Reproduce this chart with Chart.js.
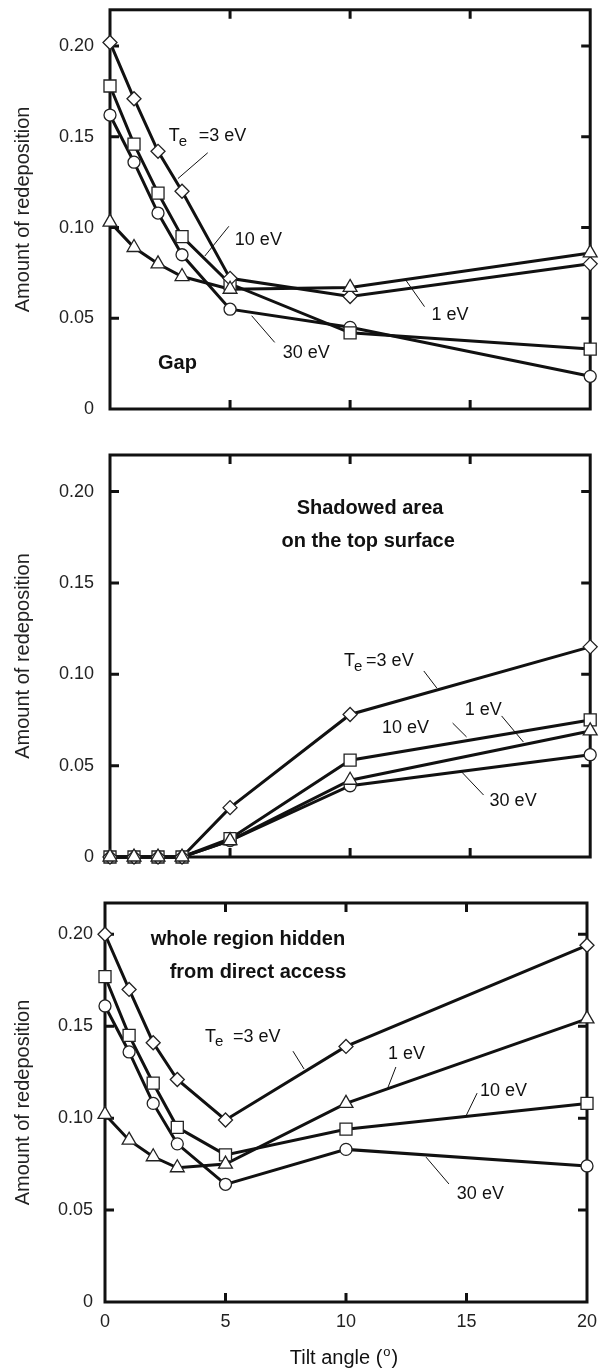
<!DOCTYPE html>
<html>
<head>
<meta charset="utf-8">
<script src="https://cdn.jsdelivr.net/npm/chart.js@4/dist/chart.umd.min.js"></script>
<style>
  body { margin: 0; background: #fff; }
  .panel { position: absolute; left: 0; width: 600px; }
</style>
</head>
<body>
<div class="panel" style="top:0;height:430px"><canvas id="gap"></canvas></div>
<div class="panel" style="top:440px;height:430px"><canvas id="shadow"></canvas></div>
<div class="panel" style="top:880px;height:490px"><canvas id="whole"></canvas></div>
<script>
// tilt angle (deg) and amount of redeposition, per electron temperature
var tilt = [0, 1, 2, 3, 5, 10, 20];
var xTicks = [0, 5, 10, 15, 20];
var yTicks = [0, 0.05, 0.10, 0.15, 0.20];
var seriesNames = ['1 eV', '3 eV', '10 eV', '30 eV'];
var markers = ['triangle', 'rectRot', 'rect', 'circle'];
var markerSize = [8, 7, 8.5, 6];

// Gap
var gap1  = [0.103, 0.089, 0.080, 0.073, 0.066, 0.067, 0.086];
var gap3  = [0.202, 0.171, 0.142, 0.120, 0.072, 0.062, 0.080];
var gap10 = [0.178, 0.146, 0.119, 0.095, 0.069, 0.042, 0.033];
var gap30 = [0.162, 0.136, 0.108, 0.085, 0.055, 0.045, 0.018];

// Shadowed area on the top surface
var shd1  = [0, 0, 0, 0, 0.009, 0.042, 0.069];
var shd3  = [0, 0, 0, 0, 0.027, 0.078, 0.115];
var shd10 = [0, 0, 0, 0, 0.010, 0.053, 0.075];
var shd30 = [0, 0, 0, 0, 0.009, 0.039, 0.056];

// whole region hidden from direct access
var all1  = [0.102, 0.088, 0.079, 0.073, 0.075, 0.108, 0.154];
var all3  = [0.200, 0.170, 0.141, 0.121, 0.099, 0.139, 0.194];
var all10 = [0.177, 0.145, 0.119, 0.095, 0.080, 0.094, 0.108];
var all30 = [0.161, 0.136, 0.108, 0.086, 0.064, 0.083, 0.074];

var FONT = "'Liberation Sans', Arial, sans-serif";

function buildDatasets(values) {
  var sets = [];
  for (var i = 0; i < values.length; i++) {
    var pts = tilt.map(function(t, j) { return {x: t, y: values[i][j]}; });
    sets.push({
      label: seriesNames[i], data: pts, borderColor: '#111', borderWidth: 3,
      pointRadius: 0, fill: false, tension: 0, clip: false, order: 2
    });
    sets.push({
      label: seriesNames[i] + ' marker', data: pts, showLine: false,
      pointStyle: markers[i], pointRadius: markerSize[i], pointHoverRadius: markerSize[i],
      pointBackgroundColor: '#fff', pointBorderColor: '#222', pointBorderWidth: 1.3,
      clip: false, order: 1
    });
  }
  return sets;
}

function drawFrame(chart) {
  var ctx = chart.ctx, a = chart.chartArea;
  var xs = chart.scales.x, ys = chart.scales.y;
  ctx.save();
  ctx.strokeStyle = '#111';
  ctx.lineWidth = 3;
  ctx.strokeRect(a.left, a.top, a.right - a.left, a.bottom - a.top);
  ctx.beginPath();
  xTicks.forEach(function(v) {
    if (v <= xs.min || v >= xs.max) return;
    var px = xs.getPixelForValue(v);
    ctx.moveTo(px, a.bottom); ctx.lineTo(px, a.bottom - 9);
    ctx.moveTo(px, a.top); ctx.lineTo(px, a.top + 9);
  });
  yTicks.forEach(function(v) {
    if (v <= ys.min || v >= ys.max) return;
    var py = ys.getPixelForValue(v);
    ctx.moveTo(a.left, py); ctx.lineTo(a.left + 9, py);
    ctx.moveTo(a.right, py); ctx.lineTo(a.right - 9, py);
  });
  ctx.stroke();
  ctx.restore();
}

function drawNotes(chart, notes) {
  var ctx = chart.ctx;
  var xs = chart.scales.x, ys = chart.scales.y;
  ctx.save();
  ctx.fillStyle = '#111';
  ctx.strokeStyle = '#111';
  ctx.lineWidth = 1;
  ctx.textBaseline = 'middle';
  (notes.leaders || []).forEach(function(l) {
    ctx.beginPath();
    ctx.moveTo(xs.getPixelForValue(l[0]), ys.getPixelForValue(l[1]));
    ctx.lineTo(xs.getPixelForValue(l[2]), ys.getPixelForValue(l[3]));
    ctx.stroke();
  });
  (notes.labels || []).forEach(function(n) {
    var px = xs.getPixelForValue(n.x), py = ys.getPixelForValue(n.y);
    if (n.te) {
      ctx.textAlign = 'left';
      ctx.font = '18px ' + FONT;
      ctx.fillText('T', px, py);
      var tw = ctx.measureText('T').width;
      ctx.font = '15px ' + FONT;
      ctx.fillText('e', px + tw - 1, py + 5);
      ctx.font = '18px ' + FONT;
      ctx.fillText('=3 eV', px + n.gap, py);
      return;
    }
    ctx.font = (n.bold ? 'bold 20px ' : '18px ') + FONT;
    ctx.textAlign = n.center ? 'center' : 'left';
    ctx.fillText(n.text, px, py);
  });
  if (notes.xTitle) {
    var cx = (chart.chartArea.left + chart.chartArea.right) / 2 - 2;
    var cy = chart.height - 12;
    ctx.font = '20px ' + FONT;
    var a = 'Tilt angle (', b = 'o', c = ')';
    var wa = ctx.measureText(a).width, wc = ctx.measureText(c).width;
    ctx.font = '13px ' + FONT;
    var wb = ctx.measureText(b).width;
    var x0 = cx - (wa + wb + wc + 2) / 2;
    ctx.textAlign = 'left';
    ctx.font = '20px ' + FONT;
    ctx.fillText(a, x0, cy);
    ctx.font = '13px ' + FONT;
    ctx.fillText(b, x0 + wa + 1, cy - 6);
    ctx.font = '20px ' + FONT;
    ctx.fillText(c, x0 + wa + wb + 2, cy);
  }
  ctx.restore();
}

function makePanel(id, values, p) {
  var notesPlugin = {
    id: 'notes_' + id,
    beforeDatasetsDraw: function(chart) { drawFrame(chart); },
    afterDraw: function(chart) { drawNotes(chart, p.notes); }
  };
  return new Chart(document.getElementById(id), {
    type: 'line',
    data: { datasets: buildDatasets(values) },
    options: {
      responsive: true,
      maintainAspectRatio: false,
      animation: false,
      events: [],
      layout: { padding: { top: p.top, right: p.right, left: 0, bottom: 0 } },
      plugins: { legend: { display: false }, tooltip: { enabled: false } },
      scales: {
        x: {
          type: 'linear', min: 0, max: 20,
          grid: { display: false, drawTicks: false },
          border: { display: false },
          afterBuildTicks: function(s) { s.ticks = xTicks.map(function(v) { return {value: v}; }); },
          afterFit: function(s) {
            s.height = p.xHeight;
            s.paddingLeft = 0; s.paddingRight = 0;
          },
          ticks: {
            display: p.showX, padding: 9, color: '#222',
            font: { family: FONT, size: 18 },
            callback: function(v) { return String(v); }
          }
        },
        y: {
          min: 0, max: p.ymax,
          grid: { display: false, drawTicks: false },
          border: { display: false },
          afterBuildTicks: function(s) { s.ticks = yTicks.map(function(v) { return {value: v}; }); },
          afterFit: function(s) {
            s.width = p.left;
            s.paddingTop = 0; s.paddingBottom = 0;
          },
          title: {
            display: true, text: 'Amount of redeposition', color: '#222',
            font: { family: FONT, size: 20 }, padding: { top: 11, bottom: 0 }
          },
          ticks: {
            padding: p.yPad, color: '#222',
            font: { family: FONT, size: 18 },
            callback: function(v) { return v === 0 ? '0' : v.toFixed(2); }
          }
        }
      }
    },
    plugins: [notesPlugin]
  });
}

makePanel('gap', [gap1, gap3, gap10, gap30], {
  top: 7, right: 9, left: 110, xHeight: 21, ymax: 0.22, yPad: 16, showX: false,
  notes: {
    labels: [
      {te: true, x: 2.45, y: 0.1502, gap: 30},
      {text: '10 eV', x: 5.2, y: 0.093},
      {text: '30 eV', x: 7.19, y: 0.0309},
      {text: '1 eV', x: 13.39, y: 0.0517},
      {text: 'Gap', x: 2.0, y: 0.0249, bold: true}
    ],
    leaders: [
      [4.07, 0.1412, 2.83, 0.127],
      [4.95, 0.1007, 3.95, 0.0843],
      [5.9, 0.0514, 6.86, 0.0367],
      [12.31, 0.0712, 13.1, 0.0564]
    ]
  }
});

makePanel('shadow', [shd1, shd3, shd10, shd30], {
  top: 15, right: 8, left: 110, xHeight: 13, ymax: 0.22, yPad: 16, showX: false,
  notes: {
    labels: [
      {text: 'Shadowed area', x: 10.83, y: 0.191, bold: true, center: true},
      {text: 'on the top surface', x: 10.75, y: 0.1727, bold: true, center: true},
      {te: true, x: 9.75, y: 0.107, gap: 22},
      {text: '10 eV', x: 11.33, y: 0.0706},
      {text: '1 eV', x: 14.77, y: 0.0807},
      {text: '30 eV', x: 15.81, y: 0.0304}
    ],
    leaders: [
      [13.07, 0.1018, 13.61, 0.0925],
      [14.27, 0.0733, 14.85, 0.0657],
      [16.31, 0.0772, 17.22, 0.0629],
      [14.65, 0.0465, 15.56, 0.0339]
    ]
  }
});

makePanel('whole', [all1, all3, all10, all30], {
  top: 23, right: 13, left: 105, xHeight: 68, ymax: 0.217, yPad: 12, showX: true,
  notes: {
    xTitle: true,
    labels: [
      {text: 'whole region hidden', x: 5.93, y: 0.1974, bold: true, center: true},
      {text: 'from direct access', x: 6.35, y: 0.1792, bold: true, center: true},
      {te: true, x: 4.15, y: 0.1443, gap: 28},
      {text: '1 eV', x: 11.74, y: 0.1349},
      {text: '10 eV', x: 15.56, y: 0.1147},
      {text: '30 eV', x: 14.6, y: 0.0585}
    ],
    leaders: [
      [7.8, 0.1364, 8.26, 0.1267],
      [12.07, 0.1278, 11.7, 0.1153],
      [15.44, 0.1136, 14.94, 0.1001],
      [13.32, 0.0788, 14.27, 0.0642]
    ]
  }
});
</script>
</body>
</html>
